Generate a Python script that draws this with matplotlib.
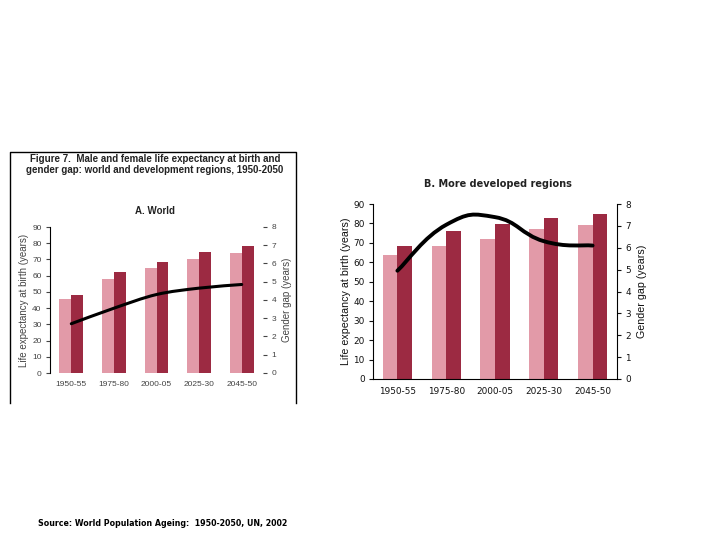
import matplotlib
matplotlib.use('Agg')
import matplotlib.pyplot as plt
from matplotlib.path import Path
from matplotlib.patches import PathPatch
import numpy as np

periods = ['1950-55', '1975-80', '2000-05', '2025-30', '2045-50']

# A. World
world_male = [45.5, 58.0, 64.5, 70.0, 74.0]
world_female = [48.0, 62.0, 68.5, 74.5, 78.5]
world_gap = [2.7, 3.55, 4.3, 4.65, 4.85]

# B. More developed regions
dev_male = [64.0, 68.5, 72.0, 77.0, 79.0]
dev_female = [68.5, 76.0, 79.5, 83.0, 85.0]
dev_gap = [4.95, 7.05, 7.4, 6.3, 6.1]

MALE = '#e29aa8'
FEMALE = '#9c2a42'


def smooth_path(xs, ys, k=1.0):
    """Bezier path through the points, Excel-like smoothing"""
    n = len(xs)
    verts = [(xs[0], ys[0])]
    codes = [Path.MOVETO]
    for i in range(n - 1):
        x0, y0 = xs[max(i - 1, 0)], ys[max(i - 1, 0)]
        x1, y1 = xs[i], ys[i]
        x2, y2 = xs[i + 1], ys[i + 1]
        x3, y3 = xs[min(i + 2, n - 1)], ys[min(i + 2, n - 1)]
        c1 = (x1 + k * (x2 - x0) / 6, y1 + k * (y2 - y0) / 6)
        c2 = (x2 - k * (x3 - x1) / 6, y2 - k * (y3 - y1) / 6)
        verts += [c1, c2, (x2, y2)]
        codes += [Path.CURVE4] * 3
    return Path(verts, codes)


def panel(rect, male, female, gap, fs, lfs, tcol, lw, width, k, world, fam):
    ax = fig.add_axes(rect)
    x = np.arange(len(periods))
    ax.bar(x - width / 2, male, width, color=MALE, zorder=2)
    ax.bar(x + width / 2, female, width, color=FEMALE, zorder=2)
    ax.set_xlim(-0.5, 4.5)
    ax.set_ylim(0, 90)
    ax.set_yticks(range(0, 91, 10))
    ax.set_xticks(x)
    ax.set_xticklabels(periods, family=fam)
    ax.set_yticklabels([str(v) for v in range(0, 91, 10)], family=fam)
    ax.tick_params(axis='x', length=0, labelsize=fs, colors=tcol, pad=6)
    ax.tick_params(axis='y', length=3, labelsize=fs, colors=tcol, pad=3)
    for s in ['top', 'right']:
        ax.spines[s].set_visible(False)
    if world:
        ax.spines['bottom'].set_visible(False)
    ax.set_ylabel('Life expectancy at birth (years)', fontsize=lfs,
                  color=tcol, labelpad=2)

    ax2 = ax.twinx()
    ax2.set_ylim(0, 8)
    ax2.set_yticks(range(0, 9))
    ax2.set_yticklabels([str(v) for v in range(0, 9)], family=fam)
    ax2.tick_params(axis='y', length=3, labelsize=fs, colors=tcol, pad=3)
    for s in ['top', 'left', 'bottom']:
        ax2.spines[s].set_visible(False)
    if world:
        ax2.spines['right'].set_visible(False)
    ax2.set_ylabel('Gender gap (years)', fontsize=lfs, color=tcol,
                   labelpad=4)
    ax2.add_patch(PathPatch(smooth_path(list(x), gap, k), fill=False,
                            lw=lw, color='black', capstyle='round', zorder=3))
    return ax


fig = plt.figure(figsize=(7.2, 5.4), dpi=100)
plt.rcParams['font.family'] = ['Liberation Sans', 'DejaVu Sans']

# left framed panel
fig.add_artist(plt.Line2D([10 / 720, 10 / 720, 296 / 720, 296 / 720],
                          [1 - 403 / 540, 1 - 152 / 540, 1 - 152 / 540, 1 - 403 / 540],
                          transform=fig.transFigure, color='black', lw=1))
fig.text(155 / 720, 1 - 159 / 540,
         'Figure 7.  Male and female life expectancy at birth and',
         ha='center', va='center', fontsize=7, fontweight='bold', color='#222222')
fig.text(155 / 720, 1 - 170 / 540,
         'gender gap: world and development regions, 1950-2050',
         ha='center', va='center', fontsize=7, fontweight='bold', color='#222222')
fig.text(155 / 720, 1 - 211 / 540, 'A. World', ha='center', va='center',
         fontsize=7, fontweight='bold', color='#222222')

panel([50 / 720, 1 - 373 / 540, 213 / 720, 146 / 540],
      world_male, world_female, world_gap, 6.0, 7.0, '#444444', 2.2, 0.28, 1.0,
      True, 'Liberation Sans')

# right panel
fig.text(498 / 720, 1 - 184 / 540, 'B. More developed regions', ha='center',
         va='center', fontsize=7, fontweight='bold', family='DejaVu Sans',
         color='#222222')
ax = panel([373 / 720, 1 - 379 / 540, 244 / 720, 175 / 540],
           dev_male, dev_female, dev_gap, 6.4, 7.7, '#111111', 2.8, 0.3, 1.4,
           False, 'DejaVu Sans')

fig.text(38 / 720, 1 - 523 / 540,
         'Source: World Population Ageing:  1950-2050, UN, 2002',
         ha='left', va='center', fontsize=5.7, fontweight='bold',
         family='DejaVu Sans')

fig.savefig('out.png', dpi=100)
